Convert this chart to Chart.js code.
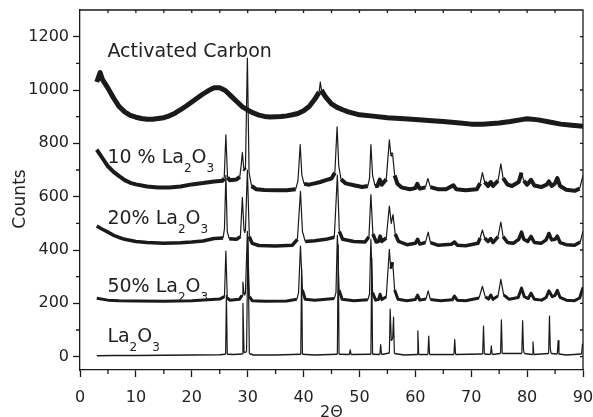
<!DOCTYPE html>
<html>
<head>
<meta charset="utf-8">
<title>XRD patterns</title>
<script src="https://cdn.jsdelivr.net/npm/chart.js@4.4.1/dist/chart.umd.min.js"></script>
<style>
  html, body { margin: 0; padding: 0; background: #fff; }
  canvas { display: block; }
</style>
</head>
<body>
<canvas id="xrdChart" width="593" height="417"></canvas>
<script>
// [2theta, counts] pairs
const carbon = [[3,1030],[3.6,1065],[4,1040],[5,1007],[6,970],[7,938],[8,918],[9,905],[10,898],[11,893],[12,890],[13,890],[14,893],[15,896],[16,903],[17,913],[18,926],[19,940],[20,955],[21,970],[22,985],[23,998],[24,1008],[25,1008],[26,998],[27,978],[28,958],[29,938],[30,925],[31,914],[32,906],[33,901],[34,899],[35,900],[36,901],[37,903],[38,907],[39,912],[40,922],[41,938],[42,965],[42.8,992],[43.0,1030],[43.2,1000],[43.5,988],[44,972],[45,948],[46,935],[47,926],[48,918],[50,907],[52,903],[55,896],[58,892],[60,889],[63,885],[65,882],[68,876],[70,872],[72,872],[75,876],[77,882],[79,889],[80,892],[82,888],[84,880],[86,872],[88,868],[90,864]];

const la10 = [[3,776],[4,745],[5,714],[6,693],[7,677],[8,662],[9,652],[10,646],[12,638],[14,634],[16,634],[18,638],[20,646],[22,651],[24,657],[25.5,660],[25.8,668],[26.1,832],[26.4,672],[26.8,662],[28,664],[28.6,675],[28.85,720],[29.05,765],[29.3,705],[29.6,700],[29.95,1120],[30.25,690],[30.7,640],[31.5,628],[33,625],[35,624],[37,624],[38.6,628],[39.0,660],[39.4,795],[39.7,680],[40.1,648],[41,645],[42,650],[43,655],[44,662],[45,668],[45.6,690],[46.0,862],[46.3,715],[46.7,665],[47.5,650],[49,643],[50.5,636],[51.5,640],[51.8,668],[52.05,795],[52.35,680],[52.8,640],[53.2,640],[53.65,664],[54.0,645],[54.8,665],[55.35,813],[55.6,760],[55.95,757],[56.3,680],[56.8,648],[57.5,635],[59,628],[60.0,632],[60.35,648],[60.8,630],[61.8,635],[62.25,668],[62.7,636],[64,628],[65.5,628],[66.8,643],[67.3,628],[69,624],[71,628],[71.6,650],[72.0,690],[72.4,655],[73.0,640],[73.5,655],[73.9,640],[74.8,660],[75.3,723],[75.7,670],[76.5,645],[77.3,640],[78.5,655],[79.0,690],[79.4,660],[80.0,645],[80.7,663],[81.3,642],[82.5,636],[83.5,645],[83.9,657],[84.4,640],[85.0,650],[85.4,670],[85.9,640],[87,626],[88.5,622],[89.4,630],[90,680]];

const la20 = [[3,490],[4,478],[5,467],[6,455],[7,447],[8,440],[10,432],[12,428],[15,425],[18,427],[20,430],[22,434],[24,443],[25.6,445],[25.85,480],[26.1,680],[26.35,470],[26.7,442],[28,440],[28.7,450],[29.05,597],[29.35,470],[29.6,470],[29.95,700],[30.3,450],[30.8,425],[32,417],[35,415],[38,418],[38.9,440],[39.45,620],[39.8,470],[40.3,432],[42,435],[44,440],[45.5,448],[46.05,680],[46.4,470],[47,440],[49,432],[51,430],[51.7,450],[52.05,608],[52.4,460],[53.0,430],[53.4,432],[53.7,452],[54.0,432],[54.8,445],[55.35,565],[55.7,500],[56.0,533],[56.4,460],[57,432],[58.5,420],[60.0,425],[60.4,440],[60.8,422],[61.8,428],[62.3,467],[62.7,428],[64,418],[66.5,422],[67.0,430],[67.5,418],[69,416],[71.2,425],[71.6,445],[72.0,475],[72.4,445],[73.0,432],[73.5,443],[73.9,428],[74.8,450],[75.3,505],[75.7,450],[76.5,428],[77.5,425],[78.5,440],[79.0,467],[79.4,440],[80.1,432],[80.7,451],[81.3,428],[82.5,425],[83.4,438],[83.9,462],[84.4,438],[85.0,440],[85.4,452],[85.9,428],[87,420],[88.5,418],[89.5,430],[90,471]];

const la50 = [[3,219],[5,212],[7,210],[10,209],[15,208],[20,210],[25,216],[25.85,225],[26.1,396],[26.35,220],[26.8,212],[28.5,215],[29.0,230],[29.15,280],[29.35,235],[29.6,235],[29.95,470],[30.3,225],[30.8,210],[33,208],[37,209],[38.8,215],[39.1,240],[39.45,415],[39.8,250],[40.3,215],[42,212],[45.5,218],[45.8,240],[46.05,455],[46.35,250],[46.9,215],[49,210],[51.5,213],[51.8,235],[52.05,440],[52.35,240],[52.9,212],[53.4,214],[53.7,234],[54.0,214],[54.8,225],[55.35,402],[55.6,330],[55.95,354],[56.3,250],[56.9,215],[58.5,210],[60.0,214],[60.4,231],[60.8,212],[61.9,216],[62.3,247],[62.7,214],[64.5,210],[66.6,213],[67.0,227],[67.5,212],[69,210],[71.4,220],[72.0,264],[72.5,225],[73.1,216],[73.5,231],[73.9,215],[74.8,228],[75.3,290],[75.8,232],[76.8,215],[78.4,222],[79.0,257],[79.5,225],[80.2,218],[80.7,238],[81.3,215],[82.6,212],[83.4,222],[83.9,247],[84.5,225],[85.0,230],[85.4,249],[85.9,222],[87,212],[88.5,210],[89.4,220],[90,260]];

const la2o3 = [[3,3],[6,4],[10,4],[15,5],[20,6],[25,7],[26.05,9],[26.2,230],[26.35,9],[27.5,8],[29.0,10],[29.15,200],[29.35,16],[29.8,18],[30.05,450],[30.3,12],[31,6],[35,6],[39.5,9],[39.65,330],[39.8,9],[42,6],[46.05,9],[46.2,420],[46.35,9],[48.2,8],[48.35,26],[48.5,8],[52.05,9],[52.2,370],[52.35,9],[53.65,8],[53.8,45],[53.95,8],[55.35,14],[55.5,178],[55.7,60],[55.95,70],[56.1,148],[56.25,12],[58,6],[60.3,8],[60.45,97],[60.6,8],[62.25,8],[62.4,77],[62.55,8],[66.9,8],[67.05,64],[67.2,8],[72.05,10],[72.2,115],[72.35,10],[73.45,8],[73.6,41],[73.75,8],[75.25,12],[75.4,138],[75.55,12],[79.05,12],[79.2,135],[79.35,25],[79.5,12],[80.9,8],[81.05,56],[81.2,8],[83.85,12],[84.0,152],[84.15,30],[84.3,12],[85.4,10],[85.55,60],[85.7,10],[87,6],[89.75,10],[89.9,47],[90,40]];

const xTickValues = [0, 10, 20, 30, 40, 50, 60, 70, 80, 90];
const xMinorValues = [5, 15, 25, 35, 45, 55, 65, 75, 85];
const yTickValues = [0, 200, 400, 600, 800, 1000, 1200];
const yMinorValues = [100, 300, 500, 700, 900, 1100];

const xTitle = '2\u0398';
const yTitle = 'Counts';

const INK = '#1a1a1a';
const FONT = 'DejaVu Sans';

// noisy baselines drawn thick, the sharp reflections thin
function seg(base) {
  return {
    borderWidth: c => {
      const dx = c.p1.parsed.x - c.p0.parsed.x;
      const dy = Math.abs(c.p1.parsed.y - c.p0.parsed.y);
      return dy / dx > 70 ? 1.2 : base;
    }
  };
}

function trace(points, width) {
  return {
    data: points.map(p => ({ x: p[0], y: p[1] })),
    borderColor: INK,
    borderWidth: width,
    borderJoinStyle: 'round',
    pointRadius: 0,
    tension: 0,
    fill: false,
    segment: seg(width)
  };
}

// labels beside each trace: [prefix, has formula, x, y]
const traceLabels = [
  ['Activated Carbon', false, 4.9, 1125],
  ['10 % ', true, 4.9, 728],
  ['20% ', true, 4.9, 496],
  ['50% ', true, 4.9, 243],
  ['', true, 4.9, 55]
];

function drawFormula(ctx, px, py, prefix) {
  const big = '19px "' + FONT + '"';
  const small = '12px "' + FONT + '"';
  ctx.font = big;
  ctx.fillText(prefix + 'La', px, py);
  let cx = px + ctx.measureText(prefix + 'La').width;
  ctx.font = small;
  ctx.fillText('2', cx, py + 9);
  cx += ctx.measureText('2').width;
  ctx.font = big;
  ctx.fillText('O', cx, py);
  cx += ctx.measureText('O').width;
  ctx.font = small;
  ctx.fillText('3', cx, py + 9);
}

const framePlugin = {
  id: 'frame',
  afterDraw(chart) {
    const { ctx, chartArea: a, scales: { x, y } } = chart;
    ctx.save();
    ctx.strokeStyle = INK;
    ctx.lineWidth = 1.3;
    ctx.beginPath();
    ctx.moveTo(a.left, a.top);
    ctx.lineTo(a.right, a.top);
    ctx.lineTo(a.right, a.bottom);
    xMinorValues.concat(xTickValues).forEach(v => {
      const px = x.getPixelForValue(v);
      if (px <= a.left + 1 || px >= a.right - 1) return;
      ctx.moveTo(px, a.top);
      ctx.lineTo(px, a.top + 3);
    });
    xMinorValues.forEach(v => {
      const px = x.getPixelForValue(v);
      ctx.moveTo(px, a.bottom);
      ctx.lineTo(px, a.bottom + 4);
    });
    yMinorValues.concat(yTickValues).forEach(v => {
      const py = y.getPixelForValue(v);
      ctx.moveTo(a.right, py);
      ctx.lineTo(a.right - 3, py);
    });
    yMinorValues.forEach(v => {
      const py = y.getPixelForValue(v);
      ctx.moveTo(a.left, py);
      ctx.lineTo(a.left - 4, py);
    });
    ctx.stroke();

    ctx.fillStyle = '#222';
    ctx.textBaseline = 'alphabetic';
    ctx.textAlign = 'left';
    traceLabels.forEach(([text, formula, lx, ly]) => {
      const px = x.getPixelForValue(lx);
      const py = y.getPixelForValue(ly);
      if (formula) {
        drawFormula(ctx, px, py, text);
      } else {
        ctx.font = '19px "' + FONT + '"';
        ctx.fillText(text, px, py);
      }
    });

    ctx.textAlign = 'center';
    ctx.font = '16px "' + FONT + '"';
    ctx.fillText(xTitle, (a.left + a.right) / 2, 417);
    ctx.translate(25, 199);
    ctx.rotate(-Math.PI / 2);
    ctx.font = '17px "' + FONT + '"';
    ctx.fillText(yTitle, 0, 0);
    ctx.restore();
  }
};

const tickFont = { family: FONT, size: 16 };

new Chart(document.getElementById('xrdChart').getContext('2d'), {
  type: 'line',
  data: {
    datasets: [
      trace(carbon, 5),
      trace(la10, 4),
      trace(la20, 3.5),
      trace(la50, 3),
      trace(la2o3, 1.5)
    ]
  },
  options: {
    responsive: false,
    animation: false,
    layout: { padding: { top: 10, right: 10, left: 0, bottom: 0 } },
    plugins: {
      legend: { display: false },
      tooltip: { enabled: false }
    },
    scales: {
      x: {
        type: 'linear',
        min: 0,
        max: 90,
        afterBuildTicks: s => { s.ticks = xTickValues.map(v => ({ value: v })); },
        afterFit: s => { s.height = 47; s.paddingLeft = 0; s.paddingRight = 0; },
        ticks: { font: tickFont, color: '#222', padding: 11, maxRotation: 0, autoSkip: false, callback: v => String(v) },
        grid: { drawOnChartArea: false, tickLength: 7, tickColor: INK, tickWidth: 1.3 },
        border: { color: INK, width: 1.3 }
      },
      y: {
        min: -50,
        max: 1300,
        afterBuildTicks: s => { s.ticks = yTickValues.map(v => ({ value: v })); },
        afterFit: s => { s.width = 80; s.paddingTop = 0; s.paddingBottom = 0; },
        ticks: { font: tickFont, color: '#222', padding: 4, autoSkip: false, callback: v => String(v) },
        grid: { drawOnChartArea: false, tickLength: 7, tickColor: INK, tickWidth: 1.3 },
        border: { color: INK, width: 1.3 }
      }
    }
  },
  plugins: [framePlugin]
});
</script>
</body>
</html>
